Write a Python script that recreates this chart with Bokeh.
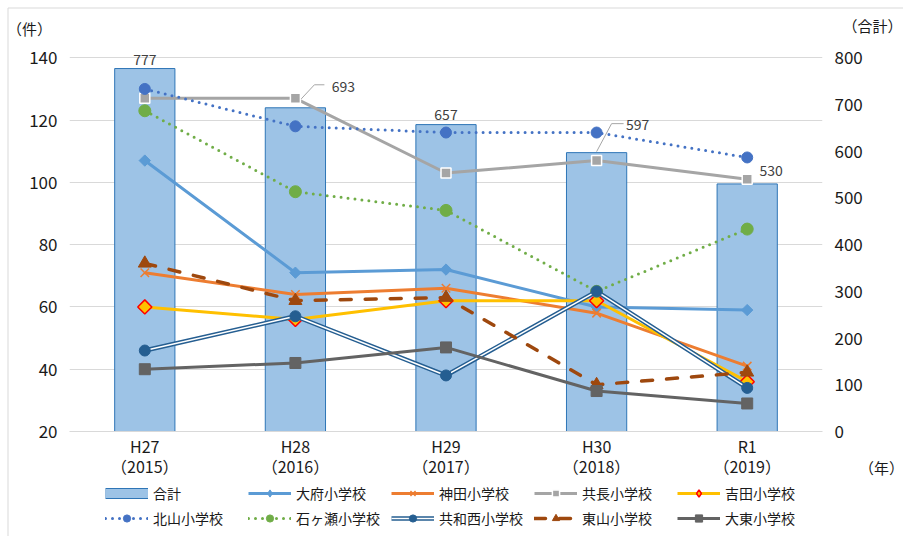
from bokeh.plotting import figure
from bokeh.models import (Range1d, LinearAxis, FixedTicker, Legend, LegendItem,
                          GridBox)
from bokeh.core.properties import value
from bokeh.embed import file_html
from bokeh.resources import INLINE

# ---- data -------------------------------------------------------------
periods = ["H27\n（2015）", "H28\n（2016）", "H29\n（2017）", "H30\n（2018）", "R1\n（2019）"]
totals = [777, 693, 657, 597, 530]

obu = [107, 71, 72, 60, 59]            # 大府小学校
kanda = [71, 64, 66, 58, 41]           # 神田小学校
kyocho = [127, 127, 103, 107, 101]     # 共長小学校
yoshida = [60, 56, 62, 62, 36]         # 吉田小学校
kitayama = [130, 118, 116, 116, 108]   # 北山小学校
ishigase = [123, 97, 91, 65, 85]       # 石ヶ瀬小学校
kyowanishi = [46, 57, 38, 65, 34]      # 共和西小学校
higashiyama = [74, 62, 63, 35, 39]     # 東山小学校
daito = [40, 42, 47, 33, 29]           # 大東小学校

left_ticks = [20, 40, 60, 80, 100, 120, 140]
right_ticks = [0, 100, 200, 300, 400, 500, 600, 700, 800]

# ---- geometry ---------------------------------------------------------
FONT = "Noto Sans CJK JP"
TEXT = "#1a1a1a"
W, H = 903, 536
BL, BR, BB = 69, 81, 105
GRID_TOP = 57.3                     # canvas y of the 140 / 800 gridline
BT = 40                             # frame starts a little above it
FRAME_W = W - BL - BR
CORE_H = H - BB - GRID_TOP          # px spanned by 20..140 and 0..800
FRAME_H = H - BB - BT

left_per_px = 120 / CORE_H
tot_per_px = 800 / CORE_H
y_top = 20 + FRAME_H * left_per_px
tot_top = FRAME_H * tot_per_px

xs = list(range(len(periods)))
px_x = FRAME_W / len(periods)

# ---- main chart -------------------------------------------------------
p = figure(width=W, height=H, output_backend="svg", toolbar_location=None,
           x_range=Range1d(-0.5, len(periods) - 0.5), y_range=Range1d(20, y_top),
           min_border_left=BL, min_border_right=BR, min_border_top=BT,
           min_border_bottom=BB)
p.extra_y_ranges = {"total": Range1d(0, tot_top)}
p.outline_line_color = None
p.background_fill_color = "white"
p.border_fill_color = "white"

p.xgrid.grid_line_color = None
p.ygrid.ticker = FixedTicker(ticks=left_ticks)
p.ygrid.grid_line_color = "#d9d9d9"
p.ygrid.grid_line_width = 1


def style_axis(ax, size, standoff):
    ax.axis_line_color = None
    ax.major_tick_line_color = None
    ax.minor_tick_line_color = None
    ax.major_tick_out = 0
    ax.major_tick_in = 0
    ax.major_label_text_font = FONT
    ax.major_label_text_font_size = size
    ax.major_label_text_color = TEXT
    ax.major_label_standoff = standoff


yax = p.yaxis[0]
style_axis(yax, "17px", 12)
yax.ticker = FixedTicker(ticks=left_ticks)

rax = LinearAxis(y_range_name="total", ticker=FixedTicker(ticks=right_ticks))
style_axis(rax, "17px", 12)
p.add_layout(rax, "right")

xax = p.xaxis[0]
style_axis(xax, "16px", 2)
xax.axis_line_color = "#d9d9d9"
xax.ticker = FixedTicker(ticks=xs)
xax.major_label_overrides = {i: lab for i, lab in enumerate(periods)}
xax.major_label_text_line_height = 0.86

# bars: 合計 on the right axis
BAR_FILL, BAR_LINE = "#9DC3E6", "#2E75B6"
p.vbar(x=xs, top=totals, bottom=0, width=0.4, y_range_name="total",
       fill_color=BAR_FILL, line_color=BAR_LINE, line_width=1)

# total value labels (px offsets from the bar top), two with leader lines
label_off = [(0, 9), (48, 21), (0, 10), (41, 28), (24, 13)]
p.text(x=[x + dx / px_x for x, (dx, dy) in zip(xs, label_off)],
       y=[t + dy * tot_per_px for t, (dx, dy) in zip(totals, label_off)],
       text=[str(t) for t in totals], y_range_name="total",
       text_align="center", text_baseline="middle",
       text_font=value(FONT), text_font_size="14px", text_color="#404040")

leaders = {1: [(5, 8), (19, 23), (29, 23)], 3: [(0, 1), (15, 29), (27, 29)]}
for i, pts in leaders.items():
    p.line(x=[xs[i] + dx / px_x for dx, dy in pts],
           y=[totals[i] + dy * tot_per_px for dx, dy in pts],
           y_range_name="total", line_color="#a6a6a6", line_width=1)

# school series styles
DIAMOND = 0.7854   # squares turned 45 degrees
styles = [
    ("大府小学校", obu, dict(color="#5B9BD5", marker="square", size=8, angle=DIAMOND)),
    ("神田小学校", kanda, dict(color="#ED7D31", marker="x", size=12, mlw=1.5)),
    ("共長小学校", kyocho, dict(color="#A5A5A5", marker="square", size=10,
                              mline="white", mlw=1.5)),
    ("吉田小学校", yoshida, dict(color="#FFC000", marker="square", size=10,
                              mline="#FF0000", mlw=1.5, angle=DIAMOND)),
    ("北山小学校", kitayama, dict(color="#4472C4", marker="circle", size=11, dash="0 7")),
    ("石ヶ瀬小学校", ishigase, dict(color="#70AD47", marker="circle", size=12, dash="0 7")),
    ("共和西小学校", kyowanishi, dict(color="#255E91", marker="circle", size=11, double=True)),
    ("東山小学校", higashiyama, dict(color="#9E480E", marker="triangle", size=13,
                                 dash="11 14", lw=3.5)),
    ("大東小学校", daito, dict(color="#636363", marker="square", size=11)),
]


def draw_series(fig, x, y, color, marker, size, lw=3, dash="solid", mline=None,
                mlw=1, double=False, angle=0.0, key=False):
    rs = []
    if double:
        rs.append(fig.line(x, y, line_color=color, line_width=4.5))
        rs.append(fig.line(x, y, line_color="white", line_width=1.5))
    else:
        rs.append(fig.line(x, y, line_color=color, line_width=lw, line_dash=dash,
                           line_cap="round" if dash != "solid" else "butt",
                           line_join="round"))
    if key:
        # legend keys use smaller markers; turned squares become diamonds
        if angle:
            marker, size, angle = "diamond", size * 1.25, 0.0
        size = size * 0.75
    rs.append(fig.scatter(x, y, marker=marker, size=size, angle=angle,
                          fill_color=color, line_color=mline or color,
                          line_width=mlw))
    return rs


for name, vals, st in styles:
    draw_series(p, xs, vals, **st)

# ---- overlay: captions, legend and chart border (pixel coordinates) ----
ov = figure(width=W, height=H, output_backend="svg", toolbar_location=None,
            x_range=Range1d(0, W), y_range=Range1d(H, 0),
            x_axis_location=None, y_axis_location=None,
            min_border=0, min_border_left=0, min_border_right=0,
            min_border_top=0, min_border_bottom=0)
try:
    ov.frame_align = False
except AttributeError:
    pass
ov.grid.visible = False
ov.outline_line_color = None
ov.background_fill_alpha = 0
ov.border_fill_alpha = 0

captions = ["（件）", "（合計）", "（年）"]
ov.text(x=[29, 872, 881], y=[28, 25, 467], text=captions,
        text_align="center", text_baseline="middle",
        text_font=value(FONT), text_font_size="15px", text_color=TEXT)

ov.line(x=[7.5, 7.5, W + 5], y=[H + 5, 7.5, 7.5], line_color="#d9d9d9", line_width=1)

# legend keys: placeholder renderers holding a single NaN point
NAN = [float("nan")]
sw_a = ov.line(x=NAN, y=NAN, line_width=11, line_color=BAR_LINE)
sw_b = ov.line(x=NAN, y=NAN, line_width=9, line_color=BAR_FILL)
items = [LegendItem(label="合計", renderers=[sw_a, sw_b])]
for name, vals, st in styles:
    items.append(LegendItem(label=name,
                            renderers=draw_series(ov, NAN, NAN, key=True, **st)))

legend = Legend(items=items, ncols=5, orientation="horizontal",
                location=(105, 8), glyph_width=43, glyph_height=18,
                label_height=18, label_width=90, label_standoff=5, spacing=5,
                padding=0, margin=0, border_line_color=None,
                background_fill_alpha=0, label_text_font=FONT,
                label_text_font_size="14px", label_text_color=TEXT)
ov.add_layout(legend)

page = GridBox(children=[(p, 0, 0), (ov, 0, 0)])
open("out.html", "w").write(file_html(page, INLINE))
